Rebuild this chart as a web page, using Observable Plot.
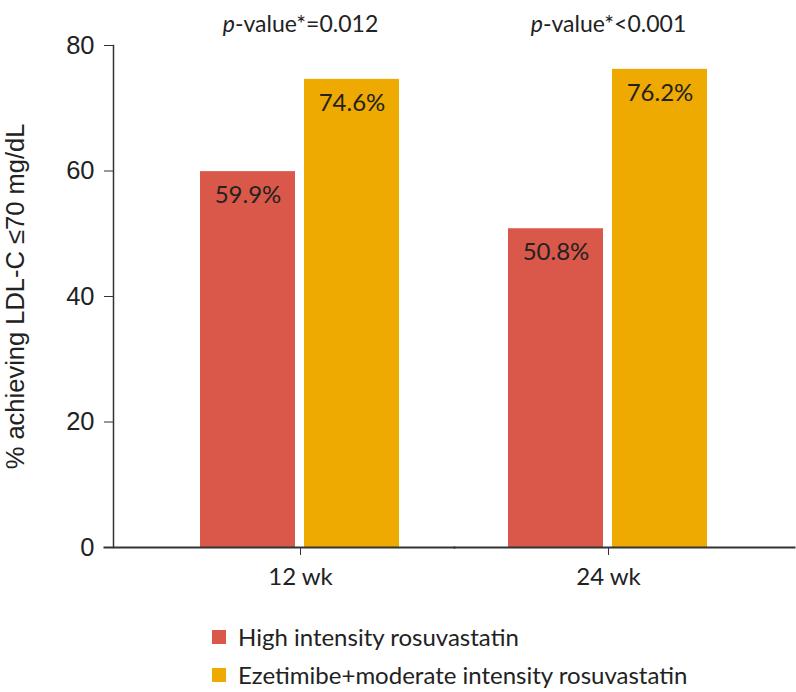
<!DOCTYPE html>
<html>
<head>
<meta charset="utf-8">
<script src="https://cdn.jsdelivr.net/npm/d3@7"></script>
<script src="https://cdn.jsdelivr.net/npm/@observablehq/plot@0.6"></script>
<style>
  html, body { margin: 0; padding: 0; background: #fff; }
  #chart { width: 796px; }
  .lg-swatches { margin-left: 212px !important; margin-top: 22px !important; }
  .lg-swatch { padding-bottom: 9px !important; }
</style>
</head>
<body>
<div id="chart"></div>
<script>
// ---- data ----
const weeks = ["12 wk", "24 wk"];
const groups = ["High intensity rosuvastatin", "Ezetimibe+moderate intensity rosuvastatin"];
const highIntensityValues = [59.9, 50.8];
const ezetimibeValues = [74.6, 76.2];
const pValueLabels = ["p-value*=0.012", "p-value*<0.001"];
const yTicks = [0, 20, 40, 60, 80];
const colors = ["#da5849", "#eeaa00"];

const data = [];
weeks.forEach((w, i) => {
  data.push({week: w, group: groups[0], value: highIntensityValues[i]});
  data.push({week: w, group: groups[1], value: ezetimibeValues[i]});
});
const pvals = weeks.map((w, i) => ({week: w, label: pValueLabels[i]}));

const textFont = "Lato, 'Open Sans', sans-serif";
const axisFont = "'Liberation Sans', Arial, sans-serif";

const plot = Plot.plot({
  width: 796,
  height: 600,
  marginLeft: 113,
  marginRight: 2,
  marginTop: 45,
  marginBottom: 53,
  style: {background: "#fff", color: "#222"},
  fx: {domain: weeks, paddingInner: 0, paddingOuter: 0.1055, align: 0.508, axis: null},
  x: {domain: groups, paddingInner: 0.0865, paddingOuter: 0.524, axis: null},
  y: {domain: [0, 80], axis: null},
  color: {domain: groups, range: colors},
  marks: [
    Plot.barY(data, {fx: "week", x: "group", y: "value", fill: "group"}),
    Plot.text(data, {
      fx: "week", x: "group", y: "value",
      text: d => d.value.toFixed(1) + "%",
      dy: 24, fontSize: 24, fontFamily: textFont, fill: "#222"
    }),
    Plot.text(pvals, {
      fx: "week", text: "label", frameAnchor: "top", dy: -30,
      fontSize: 23, fontFamily: textFont, fill: "#222"
    }),
    // y-axis line (left facet only, extended back to the axis position)
    Plot.frame({anchor: "left", facetAnchor: "left", insetLeft: -33, stroke: "#333", strokeWidth: 1.5}),
    // x-axis baseline, split across the two facets
    Plot.frame({anchor: "bottom", facetAnchor: "left", insetLeft: -42, stroke: "#333", strokeWidth: 2}),
    Plot.frame({anchor: "bottom", facetAnchor: "right", insetRight: -32, stroke: "#333", strokeWidth: 2}),
    Plot.axisY({
      ticks: yTicks, tickSize: 9, tickPadding: 10, dx: -33,
      fontSize: 25.5, fontFamily: axisFont, stroke: "#333",
      label: "% achieving LDL-C ≤70 mg/dL", labelAnchor: "center", labelArrow: "none", labelOffset: 141
    }),
    Plot.axisFx({
      anchor: "bottom", tickSize: 8, tickPadding: 12, label: null,
      fontSize: 24, fontFamily: textFont, stroke: "#333"
    })
  ]
});

// italic "p" in the p-value labels
d3.select(plot).selectAll("text").each(function() {
  const t = this.textContent;
  if (pValueLabels.includes(t)) {
    const sel = d3.select(this);
    sel.text(null);
    sel.append("tspan").attr("font-style", "italic").text(t.slice(0, 1));
    sel.append("tspan").text(t.slice(1));
  }
});

const legend = Plot.legend({
  color: {domain: groups, range: colors},
  legend: "swatches",
  columns: 1,
  swatchSize: 14,
  className: "lg",
  style: {fontSize: "24px", fontFamily: textFont, color: "#222"}
});

const chart = document.getElementById("chart");
chart.appendChild(plot);
chart.appendChild(legend);
</script>
</body>
</html>
